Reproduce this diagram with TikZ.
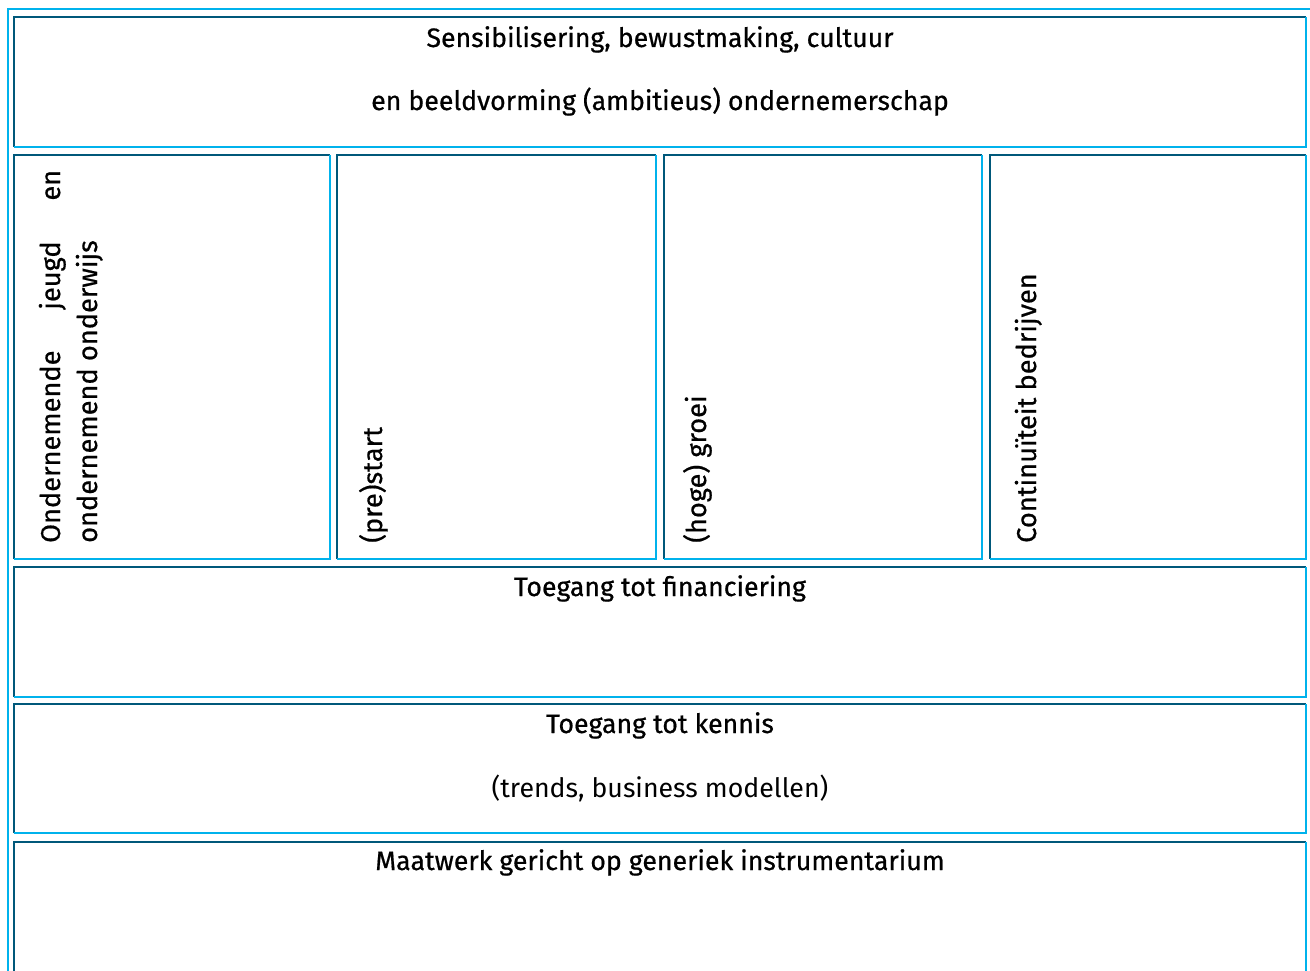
\documentclass[tikz,border=0pt]{standalone}
\usepackage{fontspec}
\setmainfont{Fira Sans}
\newfontfamily\medfont[FakeBold=0.6]{Fira Sans}
\newfontfamily\regfont{Fira Sans}
\definecolor{darkb}{RGB}{0,88,122}
\definecolor{lightb}{RGB}{0,178,236}
\tikzset{
  x=1pt, y=-1pt,
  darkedge/.style={draw=darkb, line width=2.2pt},
  lightedge/.style={draw=lightb, line width=2.2pt},
  outeredge/.style={draw=lightb, line width=2.2pt},
  lbl/.style={inner sep=0pt, font=\medfont\fontsize{26.7}{32}\selectfont, anchor=base},
  vlbl/.style={inner sep=0pt, font=\medfont\fontsize{27.2}{32}\selectfont, rotate=90, anchor=base west},
  sublbl/.style={inner sep=0pt, font=\regfont\fontsize{26.7}{32}\selectfont, anchor=base},
}
\newcommand{\cellbox}[4]{%
  \draw[darkedge] (#1,#4) -- (#1,#2) -- (#3,#2);
  \draw[lightedge] (#3,#2) -- (#3,#4) -- (#1,#4);
}
\begin{document}
\begin{tikzpicture}
\useasboundingbox (0,0) rectangle (1310,971);
\clip (0,0) rectangle (1310,971);
\fill[white] (0,0) rectangle (1310,971);
% outer frame
\draw[outeredge] (8,1000) -- (8,9) -- (1320,9);
% row 1
\cellbox{14}{17}{1306}{147}
% row 2
\cellbox{14}{155}{330}{559}
\cellbox{337}{155}{656}{559}
\cellbox{664}{155}{982}{559}
\cellbox{990}{155}{1306}{559}
% row 3
\cellbox{14}{567}{1306}{697}
% row 4
\cellbox{14}{704}{1306}{833}
% row 5
\cellbox{14}{842}{1306}{1010}
% texts
\node[lbl] (t1a) at (660,47) {Sensibilisering, bewustmaking, cultuur};
\node[lbl] (t1b) at (660,110) {en beeldvorming (ambitieus) ondernemerschap};
\node[vlbl] (c1a) at (60,543) {\makebox[373pt][s]{Ondernemende\hfill jeugd\hfill en}};
\node[vlbl] (c1b) at (97,543) {ondernemend onderwijs};
\node[vlbl] (c2) at (382,543) {(pre)start};
\node[vlbl] (c3) at (706,543) {(hoge) groei};
\node[vlbl] (c4) at (1036,543) {Continuïteit bedrijven};
\node[lbl] (t3) at (660,596) {Toegang tot financiering};
\node[lbl] (t4a) at (660,733) {Toegang tot kennis};
\node[sublbl] (t4b) at (660,797) {(trends, business modellen)};
\node[lbl] (t5) at (660,870) {Maatwerk gericht op generiek instrumentarium};
\end{tikzpicture}
\end{document}
